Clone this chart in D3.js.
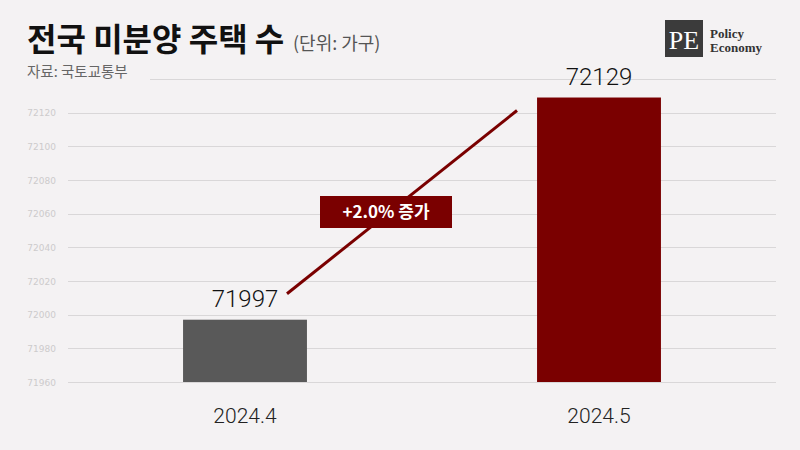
<!DOCTYPE html>
<html><head><meta charset="utf-8">
<script src="https://cdn.jsdelivr.net/npm/d3@7/dist/d3.min.js"></script>
<style>body{margin:0;background:#f4f2f3;}svg{display:block;}</style>
</head><body><svg id="c" width="800" height="450"></svg>
<script>
const categories = ["2024.4", "2024.5"];
const values = [71997, 72129];
const yTicks = [71960, 71980, 72000, 72020, 72040, 72060, 72080, 72100, 72120, 72140];
const barColors = ["#595959", "#7a0000"];
const title = "전국 미분양 주택 수";
const unit = "(단위: 가구)";
const source = "자료: 국토교통부";
const changeLabel = "+2.0% 증가";

const svg = d3.select("#c");
const W = 800, H = 450;
const left = 68, right = 776;
svg.append("rect").attr("width", W).attr("height", H).attr("fill", "#f4f2f3");

const x = d3.scaleBand().domain(categories).range([left, right]).paddingInner(0.65).paddingOuter(0.325);
const y = d3.scaleLinear().domain([71960, 72140]).range([382, 79]);

// gridlines
const grid = svg.append("g");
grid.selectAll("line").data(yTicks).join("line")
  .attr("x1", d => d === 72140 ? 150 : left).attr("x2", right)
  .attr("y1", d => Math.round(y(d)) + 0.5).attr("y2", d => Math.round(y(d)) + 0.5)
  .attr("stroke", "#d9d7d8").attr("stroke-width", 1);
// tick labels
svg.append("g").selectAll("text").data(yTicks.filter(d => d !== 72140)).join("text")
  .attr("x", 56).attr("y", d => y(d) + 3.5).attr("text-anchor", "end")
  .attr("font-family", "DejaVu Sans, sans-serif").attr("font-size", 9).attr("fill", "#cdcbcc")
  .text(d => d);

// bars
svg.append("g").selectAll("rect").data(values).join("rect")
  .attr("x", (d, i) => x(categories[i])).attr("width", x.bandwidth())
  .attr("y", d => y(d)).attr("height", d => y(71960) - y(d))
  .attr("fill", (d, i) => barColors[i]);

// value labels
svg.append("g").selectAll("text").data(values).join("text")
  .attr("x", (d, i) => x(categories[i]) + x.bandwidth() / 2)
  .attr("y", d => y(d) - 13).attr("text-anchor", "middle")
  .attr("font-family", "Roboto, sans-serif").attr("font-weight", 300).attr("font-size", 24).attr("fill", "#111")
  .text(d => d);

// x labels
svg.append("g").selectAll("text").data(categories).join("text")
  .attr("x", d => x(d) + x.bandwidth() / 2).attr("y", 423).attr("text-anchor", "middle")
  .attr("font-family", "Roboto, sans-serif").attr("font-weight", 300).attr("font-size", 21).attr("fill", "#222")
  .text(d => d);

// trend line
const c0 = x(categories[0]) + x.bandwidth() / 2, c1 = x(categories[1]) + x.bandwidth() / 2;
svg.append("line")
  .attr("x1", c0 + 42).attr("y1", y(values[0]) - 26)
  .attr("x2", c1 - 82).attr("y2", y(values[1]) + 13)
  .attr("stroke", "#7a0000").attr("stroke-width", 3);

// annotation box
const bx = 320, by = 196, bw = 132, bh = 32;
svg.append("rect").attr("x", bx).attr("y", by).attr("width", bw).attr("height", bh).attr("fill", "#7a0000");
svg.append("text").attr("x", bx + bw / 2).attr("y", by + bh / 2 + 6).attr("text-anchor", "middle")
  .attr("font-family", "Noto Sans CJK KR, sans-serif").attr("font-weight", 700).attr("font-size", 17)
  .attr("fill", "#fff").text(changeLabel);

// title
svg.append("text").attr("x", 27).attr("y", 51)
  .attr("font-family", "Noto Sans CJK KR, sans-serif").attr("font-weight", 700).attr("font-size", 32)
  .attr("fill", "#111").text(title);
svg.append("text").attr("x", 293).attr("y", 50)
  .attr("font-family", "Noto Sans CJK KR, sans-serif").attr("font-size", 18)
  .attr("fill", "#555").text(unit);
svg.append("text").attr("x", 27).attr("y", 77)
  .attr("font-family", "Noto Sans CJK KR, sans-serif").attr("font-size", 14.5)
  .attr("fill", "#666").text(source);

// logo
svg.append("rect").attr("x", 665).attr("y", 20).attr("width", 38).attr("height", 37).attr("fill", "#3b3b3b");
svg.append("text").attr("x", 684).attr("y", 49).attr("text-anchor", "middle")
  .attr("font-family", "Liberation Serif, serif").attr("font-size", 26).attr("fill", "#fff").text("PE");
svg.append("text").attr("x", 710).attr("y", 38)
  .attr("font-family", "Liberation Serif, serif").attr("font-weight", 700).attr("font-size", 13)
  .attr("fill", "#333").text("Policy");
svg.append("text").attr("x", 710).attr("y", 52)
  .attr("font-family", "Liberation Serif, serif").attr("font-weight", 700).attr("font-size", 13)
  .attr("fill", "#333").text("Economy");
</script></body></html>
